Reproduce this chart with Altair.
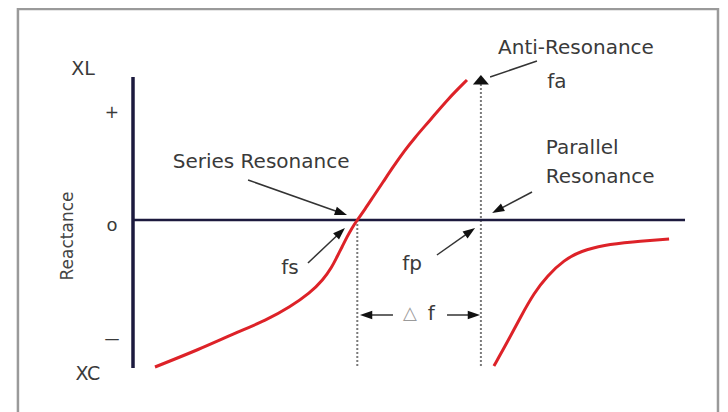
import math
import altair as alt
import pandas as pd

# ---------------- layout of the plot area (data units) ----------------
W, H = 712, 404
X_DOMAIN = [-5.573, 26.17]    # frequency (arbitrary units)
Y_DOMAIN = [-1.92, 2.12]      # reactance (arbitrary units)
PX_X = W / (X_DOMAIN[1] - X_DOMAIN[0])
PX_Y = H / (Y_DOMAIN[1] - Y_DOMAIN[0])

# ---------------- data ----------------
curve1_freq = [0.98, 2.99, 4.46, 5.97, 7.00, 7.89, 8.47, 8.87, 9.09, 9.32, 9.54,
               9.76, 10.00, 10.35, 10.70, 11.15, 11.59, 12.13, 12.53, 13.29, 14.04, 14.89]
curve1_react = [-1.47, -1.29, -1.14, -1.00, -0.87, -0.73, -0.60, -0.47, -0.37, -0.27, -0.17,
                -0.08, 0.00, 0.11, 0.23, 0.38, 0.53, 0.70, 0.815, 1.01, 1.21, 1.40]

curve2_freq = [16.09, 16.67, 17.30, 17.88, 18.46, 19.22, 19.97, 21.00, 22.20, 23.90]
curve2_react = [-1.46, -1.23, -0.96, -0.73, -0.56, -0.40, -0.31, -0.25, -0.22, -0.19]

FS = 10.0          # series resonance
FP = 15.51         # parallel / anti-resonance
V_AXIS_TOP, V_AXIS_BOTTOM = 1.43, -1.48
H_AXIS_END = 24.61
DOT_BOTTOM = -1.48
FA_TOP = 1.40
FA_TIP = 1.45
FRAME_F = [-5.13, 26.08]
FRAME_R = [2.11, -2.6]

label_text = ["XL", "+", "o", "\u2014", "XC", "Series Resonance", "Anti-Resonance",
              "fa", "fs", "fp", "\u25b3", "f"]
label_freq = [-2.23, -0.94, -0.94, -0.94, -2.01, 5.71, 19.75, 18.90, 7.00, 12.44, 12.35, 13.30]
label_react = [1.51, 1.07, -0.06, -1.19, -1.54, 0.58, 1.72, 1.38, -0.48, -0.44, -0.94, -0.94]
label_size = [19, 17, 18, 15, 19, 20, 20, 20, 20, 20, 18, 20]
label_color = ["#3a3a3a"] * 10 + ["#9a9a9a", "#3a3a3a"]

left_text = ["Parallel", "Resonance"]
left_freq = [18.40, 18.40]
left_react = [0.72, 0.43]

axis_title = ["Reactance"]
axis_title_freq = [-2.90]
axis_title_react = [-0.16]

arrow_tail_freq = [18.01, 17.79, 5.13, 7.80, 13.55, 11.59, 14.00]
arrow_tail_react = [1.59, 0.28, 0.40, -0.43, -0.35, -0.95, -0.95]
arrow_head_freq = [15.92, 16.01, 9.54, 9.45, 15.25, 10.12, 15.47]
arrow_head_react = [1.43, 0.07, 0.05, -0.08, -0.08, -0.95, -0.95]
arrow_has_head = [False, True, True, True, True, True, True]

# ---------------- derived tables ----------------
HEAD_SIZE = 150
HEAD_R = math.sqrt(HEAD_SIZE) / 2
line_rows, head_rows = [], []
for tf, tr, hf, hr, has in zip(arrow_tail_freq, arrow_tail_react,
                               arrow_head_freq, arrow_head_react, arrow_has_head):
    dxp = (hf - tf) * PX_X
    dyp = -(hr - tr) * PX_Y
    L = math.hypot(dxp, dyp)
    ux, uy = dxp / L, dyp / L
    ang = math.degrees(math.atan2(ux, -uy)) % 360
    cf = hf - ux * HEAD_R / PX_X
    cr = hr + uy * HEAD_R / PX_Y
    if has:
        line_rows.append(dict(f=tf, r=tr, f2=cf, r2=cr))
        head_rows.append(dict(f=cf, r=cr, angle=ang))
    else:
        line_rows.append(dict(f=tf, r=tr, f2=hf, r2=hr))

curve1 = pd.DataFrame({"f": curve1_freq, "r": curve1_react})
curve2 = pd.DataFrame({"f": curve2_freq, "r": curve2_react})
labels = pd.DataFrame({"t": label_text, "f": label_freq, "r": label_react,
                       "s": label_size, "c": label_color})
left_labels = pd.DataFrame({"t": left_text, "f": left_freq, "r": left_react})
title_df = pd.DataFrame({"t": axis_title, "f": axis_title_freq, "r": axis_title_react})
arrows = pd.DataFrame(line_rows)
heads = pd.DataFrame(head_rows)
axes_df = pd.DataFrame({"f": [0, 0], "r": [V_AXIS_TOP, 0],
                        "f2": [0, H_AXIS_END], "r2": [V_AXIS_BOTTOM, 0],
                        "w": [3.5, 2.5]})
dotted = pd.DataFrame({"f": [FS, FP], "r": [0, FA_TOP], "r2": [DOT_BOTTOM, DOT_BOTTOM]})
fa_head = pd.DataFrame({"f": [FP], "r": [FA_TIP - 0.6 * 8 / PX_Y]})
frame = pd.DataFrame({"f": [FRAME_F[0]], "f2": [FRAME_F[1]],
                      "r": [FRAME_R[0]], "r2": [FRAME_R[1]]})

FONT = "DejaVu Sans"


def X(field="f"):
    return alt.X(field, type="quantitative",
                 scale=alt.Scale(domain=X_DOMAIN, nice=False, zero=False), axis=None)


def Y(field="r"):
    return alt.Y(field, type="quantitative",
                 scale=alt.Scale(domain=Y_DOMAIN, nice=False, zero=False), axis=None)


frame_layer = alt.Chart(frame).mark_rect(
    fillOpacity=0, stroke="#9a9a9a", strokeWidth=2.5, clip=True
).encode(x=X(), x2="f2", y=Y(), y2="r2")

axes_layer = alt.Chart(axes_df).mark_rule(color="#1c1a3e").encode(
    x=X(), x2="f2", y=Y(), y2="r2",
    strokeWidth=alt.StrokeWidth("w:Q", scale=None))

dotted_layer = alt.Chart(dotted).mark_rule(
    color="#7a7a7a", strokeWidth=2, strokeDash=[2, 2]
).encode(x=X(), y=Y(), y2="r2")

curve1_layer = alt.Chart(curve1).mark_line(
    color="#dd2228", strokeWidth=3, interpolate="basis"
).encode(x=X(), y=Y())
curve2_layer = alt.Chart(curve2).mark_line(
    color="#dd2228", strokeWidth=3, interpolate="basis"
).encode(x=X(), y=Y())

arrow_layer = alt.Chart(arrows).mark_rule(color="#333333", strokeWidth=1.5).encode(
    x=X(), x2="f2", y=Y(), y2="r2")

head_layer = alt.Chart(heads).mark_point(
    shape="M0,-1L0.7,1L-0.7,1Z", filled=True, color="#111111", opacity=1,
    size=HEAD_SIZE, strokeWidth=0
).encode(x=X(), y=Y(), angle=alt.Angle("angle:Q", scale=None))

fa_head_layer = alt.Chart(fa_head).mark_point(
    shape="M0,-0.6L1,0.6L-1,0.6Z", filled=True, color="#111111", opacity=1,
    size=256, strokeWidth=0
).encode(x=X(), y=Y())

label_layer = alt.Chart(labels).mark_text(
    align="center", baseline="middle", font=FONT
).encode(x=X(), y=Y(), text="t:N",
         size=alt.Size("s:Q", scale=None),
         color=alt.Color("c:N", scale=None))

left_layer = alt.Chart(left_labels).mark_text(
    align="left", baseline="middle", font=FONT, fontSize=20, color="#3a3a3a"
).encode(x=X(), y=Y(), text="t:N")

title_layer = alt.Chart(title_df).mark_text(
    align="center", baseline="middle", font=FONT, fontSize=17, color="#444444", angle=270
).encode(x=X(), y=Y(), text="t:N")

chart = alt.layer(
    frame_layer, dotted_layer, axes_layer, curve1_layer, curve2_layer,
    arrow_layer, head_layer, fa_head_layer, label_layer, left_layer, title_layer
).properties(
    width=W, height=H, padding=0, autosize="none", background="white"
).configure_view(stroke=None)

chart.save("out.html", embed_options={"renderer": "svg", "actions": False})
